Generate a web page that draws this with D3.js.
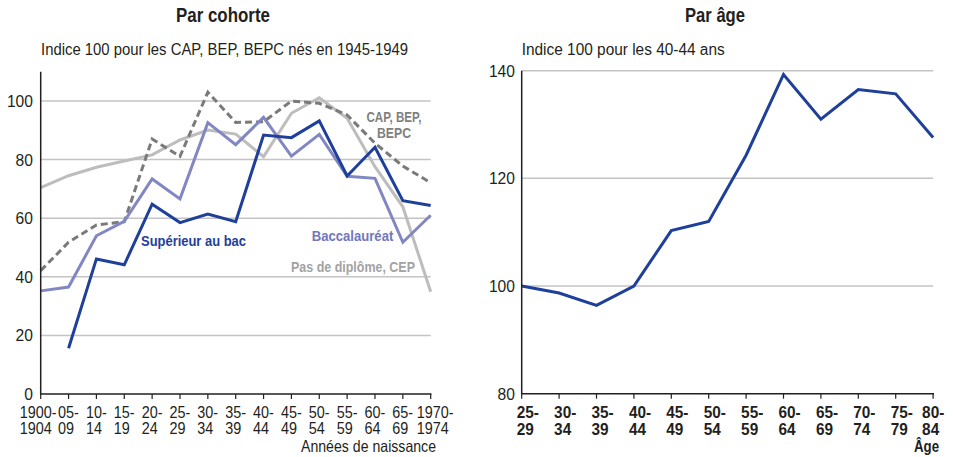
<!DOCTYPE html>
<html>
<head>
<meta charset="UTF-8">
<title>Par cohorte / Par âge</title>
<script src="https://cdn.jsdelivr.net/npm/d3@7"></script>
<style>
  body { margin:0; background:#fff; }
  svg text { font-family:"Liberation Sans Narrow","Arial Narrow","Liberation Sans",sans-serif; fill:#231f20; }
</style>
</head>
<body>
<svg id="chart" width="953" height="457"></svg>
<script>
// cohortes (années de naissance)
var cohortes = ["1900-1904","05-09","10-14","15-19","20-24","25-29","30-34","35-39",
                "40-44","45-49","50-54","55-59","60-64","65-69","1970-1974"];
var superieur = [null,15.6,46.1,44.1,64.8,58.5,61.4,58.8,88.4,87.5,93.2,74.4,84.2,66.0,64.3];
var bac       = [35.2,36.5,54.0,58.9,73.4,66.6,92.6,85.1,94.4,81.2,88.6,74.3,73.6,51.8,61.0];
var capBep    = [42.1,51.8,57.7,58.8,87.0,81.1,103.0,92.7,92.9,100.0,99.2,95.2,85.6,77.8,72.1];
var sansDipl  = [70.4,74.5,77.4,79.5,81.6,86.7,90.1,88.7,81.0,95.8,101.1,94.1,77.6,63.9,34.9];
var ticksCohorte = [0,20,40,60,80,100];

// âges
var ages = ["25-29","30-34","35-39","40-44","45-49","50-54","55-59","60-64","65-69","70-74","75-79","80-84"];
var indiceAge = [100,98.7,96.4,100,110.3,112.0,124.3,139.3,131.0,136.5,135.7,127.6];
var ticksAge = [80,100,120,140];

var svg = d3.select("#chart");
var bleu = "#1f409a", violet = "#8287c4", grisF = "#7a7a7a", grisC = "#bdbdbd";

// texte resserré (police étroite simulée) : largeur imposée
function texte(parent, x, y, str, size, w, anchor, weight, fill){
  var x0 = x;
  if (anchor == "middle") x0 = x - w / 2;
  if (anchor == "end") x0 = x - w;
  return parent.append("text").attr("x", x0).attr("y", y)
    .attr("textLength", w).attr("lengthAdjust", "spacingAndGlyphs")
    .style("font-size", size + "px").style("font-weight", weight || "normal")
    .style("fill", fill || "#231f20").text(str);
}

// ---------- panneau gauche ----------
var g1 = svg.append("g");
var x1 = d3.scalePoint().domain(cohortes).range([40.7, 430.7]);
var y1 = d3.scaleLinear().domain([0, 110]).range([394, 71.7]);

g1.selectAll("line.grid").data(ticksCohorte.filter(function(d){ return d > 0; }))
  .enter().append("line").attr("class","grid")
  .attr("x1", 40.7).attr("x2", 430.7)
  .attr("y1", function(d){ return y1(d); }).attr("y2", function(d){ return y1(d); })
  .attr("stroke", "#c4c4c4").attr("stroke-width", 1.5);

g1.selectAll("text.ytick").data(ticksCohorte).enter().append("text")
  .attr("class","ytick").attr("text-anchor","end")
  .attr("transform", function(d){ return "translate(33," + (y1(d) + 6) + ") scale(0.92,1)"; })
  .style("font-size","17px").text(function(d){ return d; });

var ligne1 = d3.line().defined(function(d){ return d.v != null; })
  .x(function(d){ return x1(d.c); }).y(function(d){ return y1(d.v); });
function serie(vals){ return vals.map(function(v,i){ return {c:cohortes[i], v:v}; }); }

g1.append("path").datum(serie(sansDipl)).attr("d", ligne1)
  .attr("fill","none").attr("stroke", grisC).attr("stroke-width", 3);
g1.append("path").datum(serie(capBep)).attr("d", ligne1)
  .attr("fill","none").attr("stroke", grisF).attr("stroke-width", 3).attr("stroke-dasharray","7,4");
g1.append("path").datum(serie(bac)).attr("d", ligne1)
  .attr("fill","none").attr("stroke", violet).attr("stroke-width", 3);
g1.append("path").datum(serie(superieur)).attr("d", ligne1)
  .attr("fill","none").attr("stroke", bleu).attr("stroke-width", 3);

// axes
g1.append("line").attr("x1",40.7).attr("x2",40.7).attr("y1",71.7).attr("y2",394)
  .attr("stroke","#231f20").attr("stroke-width",1.5);
g1.append("line").attr("x1",40).attr("x2",431.5).attr("y1",394).attr("y2",394)
  .attr("stroke","#231f20").attr("stroke-width",1.5);
g1.selectAll("line.xt").data(cohortes).enter().append("line").attr("class","xt")
  .attr("x1", function(d){ return x1(d); }).attr("x2", function(d){ return x1(d); })
  .attr("y1", 394).attr("y2", 399).attr("stroke","#231f20").attr("stroke-width",1.2);
var n1 = cohortes.length;
var lab1 = g1.selectAll("text.xl").data(cohortes).enter().append("text").attr("class","xl")
  .attr("transform", function(d,i){
    var dx = i == 0 ? -21 : (i == n1 - 1 ? -14 : -10.5);
    return "translate(" + (x1(d) + dx) + ",0) scale(0.9,1)";
  })
  .style("font-size","16px");
lab1.append("tspan").attr("x", 0).attr("y", 418)
  .text(function(d){ return d.split("-")[0] + "-"; });
lab1.append("tspan").attr("x", 0).attr("y", 434)
  .text(function(d){ return d.split("-")[1]; });
texte(g1, 436, 452, "Années de naissance", 16.5, 135, "end");

// étiquettes des séries
texte(g1, 141, 246, "Supérieur au bac", 15.5, 105, "start", "bold", bleu);
texte(g1, 393.3, 241, "Baccalauréat", 15.5, 81.6, "end", "bold", "#7177bb");
texte(g1, 415, 272, "Pas de diplôme, CEP", 15.5, 124, "end", "bold", "#a3a3a3");
texte(g1, 394, 122, "CAP, BEP,", 15.5, 55, "middle", "bold", "#808080");
texte(g1, 394, 137.5, "BEPC", 15.5, 34, "middle", "bold", "#808080");

texte(g1, 223, 22, "Par cohorte", 20, 94, "middle", "bold");
texte(g1, 41, 55, "Indice 100 pour les CAP, BEP, BEPC nés en 1945-1949", 16, 367, "start");

// ---------- panneau droit ----------
var g2 = svg.append("g");
var x2 = d3.scalePoint().domain(ages).range([521.7, 933.1]);
var y2 = d3.scaleLinear().domain([80, 140]).range([393.7, 70.7]);

g2.selectAll("line.grid").data(ticksAge.filter(function(d){ return d > 80; }))
  .enter().append("line").attr("class","grid")
  .attr("x1", 521.7).attr("x2", 933.1)
  .attr("y1", function(d){ return y2(d); }).attr("y2", function(d){ return y2(d); })
  .attr("stroke", "#c4c4c4").attr("stroke-width", 1.5);

g2.selectAll("text.ytick").data(ticksAge).enter().append("text")
  .attr("class","ytick").attr("text-anchor","end")
  .attr("transform", function(d){ return "translate(515," + (y2(d) + 6) + ") scale(0.92,1)"; })
  .style("font-size","17px").text(function(d){ return d; });

var ligne2 = d3.line().x(function(d,i){ return x2(ages[i]); }).y(function(d){ return y2(d); });
g2.append("path").datum(indiceAge).attr("d", ligne2)
  .attr("fill","none").attr("stroke", bleu).attr("stroke-width", 3);

g2.append("line").attr("x1",521.7).attr("x2",521.7).attr("y1",70.7).attr("y2",393.7)
  .attr("stroke","#231f20").attr("stroke-width",1.5);
g2.append("line").attr("x1",521).attr("x2",934).attr("y1",393.7).attr("y2",393.7)
  .attr("stroke","#231f20").attr("stroke-width",1.5);
g2.selectAll("line.xt").data(ages).enter().append("line").attr("class","xt")
  .attr("x1", function(d){ return x2(d); }).attr("x2", function(d){ return x2(d); })
  .attr("y1", 393.7).attr("y2", 398.7).attr("stroke","#231f20").attr("stroke-width",1.2);
var n2 = ages.length;
var lab2 = g2.selectAll("text.xl").data(ages).enter().append("text").attr("class","xl")
  .attr("transform", function(d,i){
    var dx = i == n2 - 1 ? -11 : -5;
    return "translate(" + (x2(d) + dx) + ",0) scale(0.96,1)";
  })
  .style("font-size","16px").style("font-weight","bold");
lab2.append("tspan").attr("x", 0).attr("y", 418)
  .text(function(d){ return d.split("-")[0] + "-"; });
lab2.append("tspan").attr("x", 0).attr("y", 435)
  .text(function(d){ return d.split("-")[1]; });
texte(g2, 939, 452, "Âge", 16, 25, "end", "bold");

texte(g2, 715, 22, "Par âge", 20, 60, "middle", "bold");
texte(g2, 521.7, 55, "Indice 100 pour les 40-44 ans", 16, 203, "start");
</script>
</body>
</html>
